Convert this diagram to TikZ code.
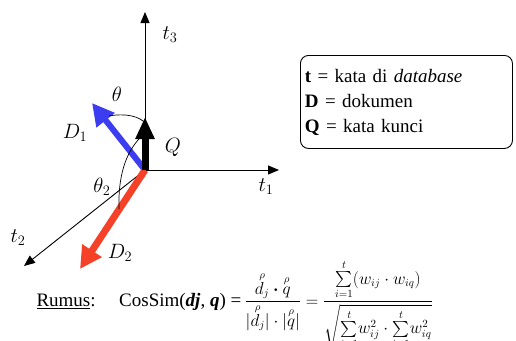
\documentclass[tikz,border=0pt]{standalone}
\usepackage{amsmath,amssymb}
\usepackage{fontspec}
\setmainfont{Liberation Serif}
\usepackage{tikz}
\usetikzlibrary{positioning,arrows.meta,calc}
\definecolor{vecblue}{RGB}{60,60,240}
\definecolor{vecred}{RGB}{245,65,40}
\tikzset{
  axis/.style={line width=0.9pt,-{Triangle[length=11pt,width=9pt]}},
  vecarrow/.style={line width=7pt,-{Triangle[length=22pt,width=22pt]}},
  lbl/.style={font=\fontsize{20}{23}\selectfont},
  txt/.style={font=\fontsize{19}{22}\selectfont},
}
\begin{document}
\begin{tikzpicture}[x=1pt,y=-1pt]
\useasboundingbox (0,0) rectangle (516,340);
% Axes
\coordinate (O) at (145,170);
\coordinate (t3end) at (145,12);
\coordinate (t1end) at (279,170);
\coordinate (t2end) at (24,266);
\draw[axis] (O) -- (t3end);
\draw[axis] (O) -- (t1end);
\draw[axis] (O) -- (t2end);
\node[lbl] (t3) at (170,35) {$t_3$};
\node[lbl] (t1) at (266,187) {$t_1$};
\node[lbl] (t2) at (18,238) {$t_2$};
% Vectors
\coordinate (D1end) at (92,103);
\coordinate (D2end) at (80,269);
\coordinate (Qend) at (145,117);
\draw[vecarrow,vecblue,line width=6pt] (O) -- (D1end);
\draw[vecarrow,vecred] (O) -- (D2end);
\draw[vecarrow,black,-{Triangle[length=22pt,width=18pt]}] (O) -- (Qend);
\node[lbl] (D1) at (75,133) {$D_1$};
\node[lbl] (D2) at (120,253) {$D_2$};
\node[lbl] (Q) at (173,147) {$Q$};
% Angles
\coordinate (th1a) at (109,116);
\coordinate (th1b) at (146,124);
\coordinate (th2a) at (119,209);
\coordinate (th2b) at (143,135);
\draw[line width=0.7pt] (th1a) .. controls (125,113) and (140,116) .. (th1b);
\draw[line width=0.7pt] (th2a) .. controls (118,180) and (124,152) .. (th2b);
\node[lbl] (th1) at (117,94) {$\theta$};
\node[lbl] (th2) at (102,187) {$\theta_2$};
% Legend
\node[draw,line width=0.9pt,rounded corners=8pt,txt,align=left,anchor=north west,
  minimum width=212pt,minimum height=93pt,text width=203pt,inner sep=4pt] (legend) at (300,55)
  {\textbf{t} = kata di \textit{database}\\[3pt] \textbf{D} = dokumen\\[3pt] \textbf{Q} = kata kunci\\};
% Formula
\node[txt,anchor=base west] (rumus) at (33,306) {\underline{Rumus}:};
\node[txt,anchor=base west,inner sep=0pt] (formula) at (119,306)
  {CosSim(\textbf{\textit{dj}}, \textbf{\textit{q}}) =\,{\fontsize{16}{19}\selectfont$
   \dfrac{\overset{\rho}{d_j}\boldsymbol{\cdot}\overset{\rho}{q}}{|\overset{\rho}{d_j}|\cdot|\overset{\rho}{q}|}
   = \dfrac{\sum\limits_{i=1}^{t}(w_{ij}\cdot w_{iq})}{\sqrt{\sum\limits_{i=1}^{t}\! w_{ij}^{2}\cdot\sum\limits_{i=1}^{t}\! w_{iq}^{2}}}$}};
\end{tikzpicture}
\end{document}
